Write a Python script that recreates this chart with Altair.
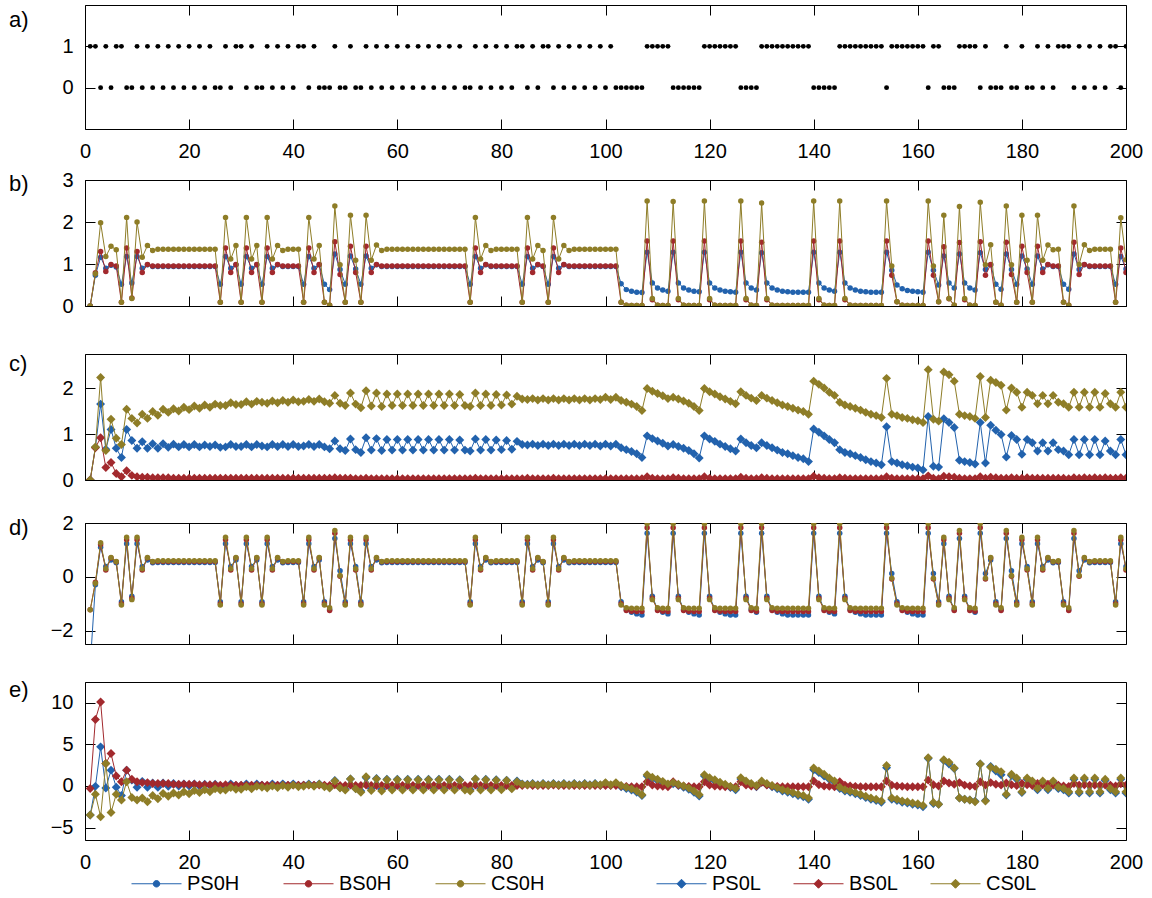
import altair as alt
import pandas as pd

FONT = "Liberation Sans"
INK = "black"
BLUE = "#2262ad"
RED = "#a2292d"
OLIVE = "#8e7d27"
PLOT_W = 1041

t = list(range(1, 201))
x_ticks = list(range(0, 201, 20))

# a) binary input sequence
seq = [
    1, 1, 0, 1, 0, 1, 1, 0, 0, 1,
    0, 1, 0, 1, 0, 1, 0, 1, 0, 1,
    0, 1, 0, 1, 0, 0, 1, 0, 1, 1,
    0, 1, 0, 0, 1, 0, 1, 0, 1, 0,
    1, 1, 0, 1, 0, 0, 0, 1, 0, 0,
    1, 0, 0, 1, 0, 1, 0, 1, 0, 1,
    0, 1, 0, 1, 0, 1, 0, 1, 0, 1,
    0, 1, 0, 0, 1, 0, 1, 0, 1, 0,
    1, 0, 1, 1, 0, 1, 0, 1, 1, 0,
    1, 0, 1, 0, 1, 0, 1, 0, 1, 0,
    1, 0, 0, 0, 0, 0, 0, 1, 1, 1,
    1, 1, 0, 0, 0, 0, 0, 0, 1, 1,
    1, 1, 1, 1, 1, 0, 0, 0, 0, 1,
    1, 1, 1, 1, 1, 1, 1, 1, 1, 0,
    0, 0, 0, 0, 1, 1, 1, 1, 1, 1,
    1, 1, 1, 0, 1, 1, 1, 1, 1, 1,
    1, 0, 1, 1, 0, 0, 0, 1, 1, 1,
    1, 0, 1, 0, 0, 0, 1, 0, 0, 1,
    0, 0, 1, 0, 1, 0, 1, 1, 1, 0,
    1, 0, 1, 0, 1, 0, 1, 1, 0, 1,
]

# b) H models
ps0h_b = [
    0, .73, 1.16, .90, .97, .93, .52, 1.18, .55, 1.18,
    .90, .98, .94, .94, .94, .94, .94, .94, .94, .94,
    .94, .94, .94, .94, .94, .52, 1.18, .90, .98, .52,
    1.18, .90, .98, .52, 1.18, .90, .98, .94, .94, .94,
    .94, .52, 1.18, .90, .98, .52, .39, 1.24, .87, .52,
    1.19, .88, .52, 1.19, .90, .98, .94, .94, .94, .94,
    .94, .94, .94, .94, .94, .94, .94, .94, .94, .94,
    .94, .94, .94, .52, 1.18, .90, .98, .94, .94, .94,
    .94, .94, .94, .52, 1.18, .90, .98, .94, .52, 1.18,
    .90, .98, .94, .94, .94, .94, .94, .94, .94, .94,
    .94, .94, .53, .39, .35, .33, .32, 1.28, .55, .43,
    .38, .35, 1.28, .55, .43, .38, .35, .34, 1.28, .55,
    .43, .38, .35, .34, .33, 1.28, .55, .43, .38, 1.27,
    .55, .43, .38, .35, .34, .33, .33, .33, .33, 1.28,
    .55, .43, .38, .35, 1.28, .55, .43, .38, .35, .34,
    .33, .33, .33, 1.28, .85, .50, .41, .37, .35, .34,
    .33, 1.28, .85, .50, 1.19, .55, .43, 1.24, .55, .43,
    .38, 1.27, .87, .98, .52, .40, 1.24, .87, .52, 1.19,
    .88, .52, 1.19, .88, .98, .94, .94, .52, .40, 1.24,
    .87, .98, .94, .94, .94, .94, .94, .52, 1.18, .88,
]
bs0h_b = [
    0, .79, 1.30, .82, .99, .95, .09, 1.38, .19, 1.30,
    .80, .99, .95, .95, .95, .95, .95, .95, .95, .95,
    .95, .95, .95, .95, .95, .09, 1.38, .80, .99, .09,
    1.38, .80, .99, .09, 1.38, .80, .99, .95, .95, .95,
    .95, .09, 1.38, .80, .99, .09, .02, 1.53, .75, .09,
    1.42, .80, .09, 1.42, .80, .99, .95, .95, .95, .95,
    .95, .95, .95, .95, .95, .95, .95, .95, .95, .95,
    .95, .95, .95, .09, 1.38, .80, .99, .95, .95, .95,
    .95, .95, .95, .09, 1.38, .80, .99, .95, .09, 1.38,
    .80, .99, .95, .95, .95, .95, .95, .95, .95, .95,
    .95, .95, .09, .02, .01, .01, .01, 1.55, .15, .02,
    .01, .01, 1.55, .15, .02, .01, .01, .01, 1.55, .15,
    .02, .01, .01, .01, .01, 1.55, .15, .02, .01, 1.52,
    .15, .02, .01, .01, .01, .01, .01, .01, .01, 1.55,
    .15, .02, .01, .01, 1.55, .15, .02, .01, .01, .01,
    .01, .01, .01, 1.55, .73, .10, .02, .01, .01, .01,
    .01, 1.55, .73, .10, 1.41, .17, .02, 1.51, .15, .02,
    .01, 1.53, .73, .99, .09, .02, 1.52, .75, .09, 1.42,
    .80, .09, 1.42, .80, .99, .95, .95, .09, .02, 1.52,
    .75, .99, .95, .95, .95, .95, .95, .09, 1.38, .80,
]
cs0h_b = [
    0, .77, 1.98, 1.18, 1.42, 1.34, .09, 2.11, .18, 2.00,
    1.16, 1.44, 1.32, 1.35, 1.35, 1.35, 1.35, 1.35, 1.35, 1.35,
    1.35, 1.35, 1.35, 1.35, 1.35, .09, 2.11, 1.12, 1.44, .09,
    2.11, 1.12, 1.44, .09, 2.11, 1.12, 1.44, 1.32, 1.35, 1.35,
    1.35, .09, 2.11, 1.12, 1.44, .09, .02, 2.38, .98, .09,
    2.16, 1.09, .09, 2.16, 1.09, 1.45, 1.32, 1.35, 1.35, 1.35,
    1.35, 1.35, 1.35, 1.35, 1.35, 1.35, 1.35, 1.35, 1.35, 1.35,
    1.35, 1.35, 1.35, .09, 2.11, 1.12, 1.44, 1.32, 1.35, 1.35,
    1.35, 1.35, 1.35, .09, 2.11, 1.12, 1.44, 1.32, .09, 2.11,
    1.12, 1.44, 1.32, 1.35, 1.35, 1.35, 1.35, 1.35, 1.35, 1.35,
    1.35, 1.35, .09, .02, .01, .01, .01, 2.50, .18, .02,
    .01, .01, 2.49, .18, .02, .01, .01, .01, 2.50, .18,
    .02, .01, .01, .01, .01, 2.50, .18, .02, .01, 2.45,
    .18, .02, .01, .01, .01, .01, .01, .01, .01, 2.50,
    .18, .02, .01, .01, 2.50, .18, .02, .01, .01, .01,
    .01, .01, .01, 2.50, .95, .10, .02, .01, .01, .01,
    .01, 2.50, .95, .10, 2.16, .18, .02, 2.37, .18, .02,
    .01, 2.47, .98, 1.46, .09, .02, 2.38, .98, .09, 2.16,
    1.09, .09, 2.16, 1.09, 1.45, 1.34, 1.35, .09, .02, 2.38,
    .99, 1.46, 1.32, 1.35, 1.35, 1.35, 1.35, .09, 2.10, 1.10,
]

# c) L models
ps0l_c = [
    0, .71, 1.65, .67, 1.10, .69, .49, 1.10, .86, .69,
    .83, .69, .79, .69, .79, .71, .78, .72, .77, .72,
    .77, .72, .76, .73, .76, .71, .72, .77, .73, .73,
    .77, .72, .77, .74, .72, .77, .73, .77, .73, .77,
    .73, .74, .77, .73, .77, .72, .68, .85, .68, .64,
    .89, .66, .60, .92, .65, .90, .64, .88, .65, .88,
    .65, .88, .65, .88, .65, .88, .65, .88, .65, .88,
    .65, .87, .65, .63, .89, .65, .88, .65, .87, .66,
    .86, .67, .84, .77, .76, .78, .75, .78, .75, .78,
    .75, .78, .75, .78, .75, .78, .75, .78, .74, .78,
    .74, .78, .70, .66, .62, .57, .49, .96, .90, .85,
    .80, .74, .77, .73, .69, .64, .57, .48, .96, .89,
    .84, .78, .73, .68, .63, .89, .81, .75, .70, .81,
    .75, .70, .65, .60, .57, .53, .49, .46, .40, 1.11,
    1.04, .96, .88, .81, .66, .60, .57, .53, .49, .44,
    .40, .37, .33, 1.16, .40, .37, .33, .31, .28, .26,
    .22, 1.38, .30, .28, 1.33, 1.25, 1.14, .43, .40, .38,
    .35, 1.25, .37, 1.19, 1.08, .99, .50, .97, .88, .56,
    .88, .81, .63, .81, .63, .81, .66, .63, .55, .88,
    .55, .88, .55, .88, .55, .85, .63, .55, .88, .55,
]
bs0l_c = [
    0, .70, .92, .27, .38, .14, .07, .20, .10, .07,
    .06, .06, .05, .05, .05, .05, .04, .04, .04, .04,
    .04, .04, .04, .04, .04, .04, .04, .04, .04, .04,
    .04, .04, .04, .04, .04, .04, .04, .04, .04, .04,
    .04, .04, .04, .04, .04, .04, .04, .05, .04, .04,
    .04, .03, .03, .04, .03, .03, .03, .03, .03, .03,
    .03, .03, .03, .03, .03, .03, .03, .03, .03, .03,
    .03, .03, .03, .03, .04, .03, .03, .03, .03, .03,
    .03, .03, .03, .03, .04, .03, .03, .03, .03, .04,
    .03, .03, .03, .03, .03, .03, .03, .03, .03, .03,
    .03, .03, .03, .03, .03, .03, .03, .07, .04, .03,
    .03, .03, .05, .04, .03, .03, .03, .03, .07, .04,
    .03, .03, .03, .03, .03, .06, .04, .03, .03, .05,
    .04, .03, .03, .03, .03, .03, .03, .03, .03, .08,
    .05, .04, .03, .03, .05, .04, .03, .03, .03, .03,
    .03, .03, .03, .07, .04, .03, .03, .03, .03, .03,
    .03, .09, .04, .03, .08, .07, .06, .04, .03, .03,
    .03, .07, .04, .06, .05, .04, .04, .05, .04, .04,
    .05, .04, .04, .04, .04, .04, .04, .04, .03, .05,
    .04, .05, .04, .05, .04, .05, .04, .04, .05, .04,
]
cs0l_c = [
    0, .72, 2.23, .64, 1.32, .91, .77, 1.54, 1.34, 1.24,
    1.43, 1.34, 1.49, 1.41, 1.54, 1.47, 1.55, 1.50, 1.58, 1.53,
    1.61, 1.56, 1.63, 1.58, 1.65, 1.62, 1.62, 1.68, 1.64, 1.64,
    1.70, 1.65, 1.71, 1.69, 1.67, 1.72, 1.68, 1.73, 1.69, 1.74,
    1.70, 1.71, 1.75, 1.71, 1.76, 1.70, 1.67, 1.84, 1.67, 1.62,
    1.89, 1.65, 1.57, 1.94, 1.61, 1.89, 1.60, 1.87, 1.62, 1.87,
    1.62, 1.87, 1.62, 1.87, 1.62, 1.87, 1.62, 1.87, 1.62, 1.87,
    1.62, 1.86, 1.62, 1.60, 1.89, 1.62, 1.87, 1.62, 1.86, 1.63,
    1.85, 1.65, 1.82, 1.76, 1.75, 1.77, 1.74, 1.77, 1.74, 1.77,
    1.74, 1.77, 1.74, 1.77, 1.74, 1.77, 1.74, 1.77, 1.75, 1.80,
    1.75, 1.80, 1.73, 1.69, 1.65, 1.60, 1.51, 1.99, 1.93, 1.88,
    1.83, 1.77, 1.80, 1.76, 1.72, 1.67, 1.60, 1.51, 1.99, 1.92,
    1.87, 1.81, 1.76, 1.71, 1.66, 1.92, 1.84, 1.78, 1.73, 1.84,
    1.78, 1.73, 1.68, 1.63, 1.60, 1.56, 1.52, 1.49, 1.43, 2.15,
    2.08, 2.00, 1.91, 1.84, 1.69, 1.63, 1.60, 1.56, 1.52, 1.47,
    1.43, 1.40, 1.36, 2.21, 1.43, 1.40, 1.36, 1.34, 1.31, 1.29,
    1.25, 2.40, 1.32, 1.28, 2.35, 2.29, 2.15, 1.43, 1.40, 1.38,
    1.34, 2.25, 1.36, 2.17, 2.12, 2.06, 1.52, 2.00, 1.91, 1.58,
    1.91, 1.84, 1.66, 1.84, 1.66, 1.84, 1.69, 1.66, 1.58, 1.91,
    1.58, 1.91, 1.58, 1.91, 1.58, 1.88, 1.66, 1.58, 1.91, 1.58,
]

# d) H models, standardised
ps0h_d = [
    -3.3, -.30, 1.10, .38, .62, .52, -.93, 1.23, -.72, 1.23,
    .38, .62, .52, .53, .53, .53, .53, .53, .53, .53,
    .53, .53, .53, .53, .53, -.93, 1.23, .38, .62, -.93,
    1.23, .38, .62, -.93, 1.23, .38, .62, .52, .53, .53,
    .53, -.93, 1.23, .38, .62, -.93, -1.22, 1.42, .22, -.93,
    1.23, .38, -.93, 1.23, .38, .62, .52, .53, .53, .53,
    .53, .53, .53, .53, .53, .53, .53, .53, .53, .53,
    .53, .53, .53, -.93, 1.23, .38, .62, .52, .53, .53,
    .53, .53, .53, -.93, 1.23, .38, .62, .52, -.93, 1.23,
    .38, .62, .52, .53, .53, .53, .53, .53, .53, .53,
    .53, .53, -.93, -1.22, -1.32, -1.38, -1.42, 1.62, -.72, -1.22,
    -1.32, -1.38, 1.62, -.72, -1.22, -1.32, -1.38, -1.42, 1.62, -.72,
    -1.22, -1.32, -1.38, -1.42, -1.42, 1.62, -.72, -1.22, -1.32, 1.62,
    -.72, -1.22, -1.32, -1.38, -1.42, -1.42, -1.42, -1.42, -1.42, 1.62,
    -.72, -1.22, -1.32, -1.38, 1.62, -.72, -1.22, -1.32, -1.38, -1.42,
    -1.42, -1.42, -1.42, 1.62, .12, -.93, -1.22, -1.32, -1.38, -1.42,
    -1.42, 1.62, .12, -.93, 1.23, -.72, -1.22, 1.42, -.72, -1.22,
    -1.32, 1.62, .12, .62, -.93, -1.22, 1.42, .22, -.93, 1.23,
    .38, -.93, 1.23, .38, .62, .52, .53, -.93, -1.22, 1.42,
    .22, .62, .52, .53, .53, .53, .53, -.93, 1.23, .38,
]
bs0h_d = [
    -1.23, -.20, 1.20, .25, .70, .56, -1.00, 1.38, -.80, 1.38,
    .25, .70, .56, .57, .57, .57, .57, .57, .57, .57,
    .57, .57, .57, .57, .57, -1.00, 1.38, .25, .70, -1.00,
    1.38, .25, .70, -1.00, 1.38, .25, .70, .56, .57, .57,
    .57, -1.00, 1.38, .25, .70, -1.00, -1.25, 1.62, .02, -1.00,
    1.38, .25, -1.00, 1.38, .25, .70, .56, .57, .57, .57,
    .57, .57, .57, .57, .57, .57, .57, .57, .57, .57,
    .57, .57, .57, -1.00, 1.38, .25, .70, .56, .57, .57,
    .57, .57, .57, -1.00, 1.38, .25, .70, .56, -1.00, 1.38,
    .25, .70, .56, .57, .57, .57, .57, .57, .57, .57,
    .57, .57, -1.00, -1.25, -1.28, -1.29, -1.29, 1.82, -.80, -1.25,
    -1.28, -1.29, 1.82, -.80, -1.25, -1.28, -1.29, -1.29, 1.82, -.80,
    -1.25, -1.28, -1.29, -1.29, -1.29, 1.82, -.80, -1.25, -1.28, 1.82,
    -.80, -1.25, -1.28, -1.29, -1.29, -1.29, -1.29, -1.29, -1.29, 1.82,
    -.80, -1.25, -1.28, -1.29, 1.82, -.80, -1.25, -1.28, -1.29, -1.29,
    -1.29, -1.29, -1.29, 1.82, -.08, -1.00, -1.25, -1.28, -1.29, -1.29,
    -1.29, 1.82, -.08, -1.00, 1.38, -.80, -1.25, 1.62, -.80, -1.25,
    -1.28, 1.82, -.08, .70, -1.00, -1.25, 1.62, .02, -1.00, 1.38,
    .25, -1.00, 1.38, .25, .70, .56, .57, -1.00, -1.25, 1.62,
    .02, .70, .56, .57, .57, .57, .57, -1.00, 1.38, .25,
]
cs0h_d = [
    -1.23, -.24, 1.27, .30, .72, .57, -1.05, 1.47, -.85, 1.47,
    .30, .72, .57, .60, .60, .60, .60, .60, .60, .60,
    .60, .60, .60, .60, .60, -1.05, 1.47, .30, .72, -1.05,
    1.47, .30, .72, -1.05, 1.47, .30, .72, .57, .60, .60,
    .60, -1.05, 1.47, .30, .72, -1.05, -1.15, 1.72, .05, -1.05,
    1.47, .30, -1.05, 1.47, .30, .72, .57, .60, .60, .60,
    .60, .60, .60, .60, .60, .60, .60, .60, .60, .60,
    .60, .60, .60, -1.05, 1.47, .30, .72, .57, .60, .60,
    .60, .60, .60, -1.05, 1.47, .30, .72, .57, -1.05, 1.47,
    .30, .72, .57, .60, .60, .60, .60, .60, .60, .60,
    .60, .60, -1.05, -1.15, -1.17, -1.17, -1.17, 1.97, -.85, -1.15,
    -1.17, -1.17, 1.97, -.85, -1.15, -1.17, -1.17, -1.17, 1.97, -.85,
    -1.15, -1.17, -1.17, -1.17, -1.17, 1.97, -.85, -1.15, -1.17, 1.97,
    -.85, -1.15, -1.17, -1.17, -1.17, -1.17, -1.17, -1.17, -1.17, 1.97,
    -.85, -1.15, -1.17, -1.17, 1.97, -.85, -1.15, -1.17, -1.17, -1.17,
    -1.17, -1.17, -1.17, 1.97, -.05, -1.05, -1.15, -1.17, -1.17, -1.17,
    -1.17, 1.97, -.05, -1.05, 1.47, -.85, -1.15, 1.72, -.85, -1.15,
    -1.17, 1.97, -.05, .72, -1.05, -1.15, 1.72, .05, -1.05, 1.47,
    .30, -1.05, 1.47, .30, .72, .57, .60, -1.05, -1.15, 1.72,
    .05, .72, .57, .60, .60, .60, .60, -1.05, 1.47, .30,
]

# e) L models, standardised
ps0l_e = [
    -3.5, -.05, 4.7, -.25, 1.9, -.15, -1.15, 1.9, .7, -.15,
    .55, -.15, .35, -.15, .35, -.05, .3, 0, .25, 0,
    .25, 0, .2, .05, .2, -.05, 0, .25, .05, .05,
    .25, 0, .25, .1, 0, .25, .05, .25, .05, .25,
    .05, .1, .25, .05, .25, 0, -.2, .65, -.2, -.4,
    .85, -.3, -.6, 1.0, -.35, .9, -.4, .8, -.35, .8,
    -.35, .8, -.35, .8, -.35, .8, -.35, .8, -.35, .8,
    -.35, .75, -.35, -.45, .85, -.35, .8, -.35, .75, -.3,
    .7, -.25, .6, .25, .2, .3, .15, .3, .15, .3,
    .15, .3, .15, .3, .15, .3, .15, .3, .1, .3,
    .1, .3, -.1, -.3, -.5, -.75, -1.15, 1.2, .9, .65,
    .4, .1, .25, .05, -.15, -.4, -.75, -1.2, 1.2, .85,
    .6, .3, .05, -.2, -.45, .85, .45, .15, -.1, .45,
    .15, -.1, -.35, -.6, -.75, -.95, -1.15, -1.3, -1.6, 1.95,
    1.6, 1.2, .8, .45, -.3, -.6, -.75, -.95, -1.15, -1.4,
    -1.6, -1.75, -1.95, 2.2, -1.6, -1.75, -1.95, -2.05, -2.2, -2.3,
    -2.5, 3.3, -2.1, -2.2, 3.05, 2.65, 2.1, -1.45, -1.6, -1.7,
    -1.85, 2.65, -1.75, 2.35, 1.8, 1.35, -1.1, 1.25, .8, -.8,
    .8, .45, -.45, .45, -.45, .45, -.3, -.45, -.85, .8,
    -.85, .8, -.85, .8, -.85, .65, -.45, -.85, .8, -.85,
]
bs0l_e = [
    -.3, 8.0, 10.1, 2.7, 3.9, 1.2, .5, 1.9, .8, .5,
    .4, .4, .3, .3, .3, .3, .2, .2, .2, .2,
    .2, .15, .15, .15, .15, .1, .15, .1, .1, .1,
    .1, .1, .1, .1, .1, .1, .1, .1, .1, .1,
    .1, .1, .1, .1, .1, .1, .05, .15, .05, .05,
    .1, .05, .05, .1, .05, .05, .05, .05, .05, .05,
    .05, .05, .05, .05, .05, .05, .05, .05, .05, .05,
    .05, .05, .05, .05, .1, .05, .05, .05, .05, .05,
    .05, .05, .05, .05, .1, .05, .05, .05, .05, .1,
    .05, .05, .05, .05, .05, .05, .05, .05, .05, .05,
    .05, .05, 0, -.05, -.1, -.1, -.1, .5, .1, 0,
    -.05, -.1, .5, .1, 0, -.05, -.1, -.1, .5, .1,
    0, -.05, -.1, -.1, -.1, .5, .1, 0, -.05, .45,
    .1, 0, -.05, -.1, -.1, -.1, -.1, -.1, -.1, .6,
    .15, 0, -.05, -.1, .5, .1, 0, -.05, -.1, -.1,
    -.1, -.1, -.1, .6, .1, 0, -.05, -.1, -.1, -.1,
    -.1, .7, .15, 0, .6, .35, .2, .4, .1, 0,
    -.05, .5, .1, .4, .2, .1, .35, .15, .05, .3,
    .15, .05, .3, .15, .2, .1, .1, 0, -.05, .3,
    .1, .15, .1, .1, .1, .1, .1, 0, .25, .1,
]
cs0l_e = [
    -3.5, -1.0, -3.7, 2.7, -3.2, -1.0, -1.7, .5, -1.4, -1.7,
    -1.45, -1.9, -1.15, -1.55, -.9, -1.25, -.85, -1.1, -.7, -.95,
    -.55, -.8, -.45, -.7, -.35, -.5, -.5, -.2, -.4, -.4,
    -.1, -.35, -.05, -.15, -.25, 0, -.2, .05, -.15, .1,
    -.1, -.05, .15, -.05, .2, -.1, -.25, .6, -.25, -.5,
    .85, -.35, -.75, 1.1, -.55, .85, -.6, .75, -.5, .75,
    -.5, .75, -.5, .75, -.5, .75, -.5, .75, -.5, .75,
    -.5, .7, -.5, -.6, .85, -.5, .75, -.5, .7, -.45,
    .65, -.35, .5, .2, .15, .25, .1, .25, .1, .25,
    .1, .25, .1, .25, .1, .25, .1, .25, .15, .4,
    .15, .4, .05, -.15, -.35, -.6, -1.05, 1.35, 1.05, .8,
    .55, .25, .4, .2, 0, -.25, -.6, -1.05, 1.35, 1.0,
    .75, .45, .2, -.05, -.3, 1.0, .6, .3, .05, .6,
    .3, .05, -.2, -.45, -.6, -.8, -1.0, -1.15, -1.45, 2.15,
    1.8, 1.4, .95, .6, -.15, -.45, -.6, -.8, -1.0, -1.25,
    -1.45, -1.6, -1.8, 2.45, -1.45, -1.6, -1.8, -1.9, -2.05, -2.15,
    -2.35, 3.4, -2.0, -2.2, 3.15, 2.85, 2.15, -1.45, -1.6, -1.7,
    -1.9, 2.65, -1.8, 2.25, 2.0, 1.7, -1.0, 1.4, .95, -.7,
    .95, .6, -.3, .6, -.3, .6, -.15, -.3, -.7, .95,
    -.7, .95, -.7, .95, -.7, .8, -.3, -.7, .95, -.7,
]

h_names = ["PS0H", "BS0H", "CS0H"]
l_names = ["PS0L", "BS0L", "CS0L"]
series_colors = [BLUE, RED, OLIVE]

# legend keys: a short line with the marker in the middle
CIRCLE_KEY = "M-1,0L1,0M0.13,0A0.13,0.13,0,1,1,-0.13,0A0.13,0.13,0,1,1,0.13,0Z"
DIAMOND_KEY = "M-1,0L1,0M-0.18,0L0,-0.18L0.18,0L0,0.18Z"

XS = alt.Scale(domain=[0, 200], nice=False, zero=False)


def yscale(dom):
    return alt.Scale(domain=dom, nice=False, zero=False)


def axis_layers(ydom, yvals, xlabels):
    frame = pd.DataFrame({"t": [0, 200], "v": ydom})
    common = dict(domain=False, grid=False, tickSize=10, tickColor=INK,
                  tickWidth=1, offset=-10, title=None)
    near = alt.Chart(frame).mark_point(opacity=0, size=1, strokeWidth=0).encode(
        x=alt.X("t:Q", scale=XS, axis=alt.Axis(
            orient="bottom", values=x_ticks, labels=xlabels, labelPadding=12,
            labelFlush=False, labelOverlap=False, **common)),
        y=alt.Y("v:Q", scale=yscale(ydom), axis=alt.Axis(
            orient="left", values=yvals, labelPadding=12, labelOverlap=False,
            labelFlush=False, **common)),
    )
    far = alt.Chart(frame).mark_point(opacity=0, size=1, strokeWidth=0).encode(
        x=alt.X("t:Q", scale=XS, axis=alt.Axis(
            orient="top", values=x_ticks, labels=False, **common)),
        y=alt.Y("v:Q", scale=yscale(ydom), axis=alt.Axis(
            orient="right", values=yvals, labels=False, **common)),
    )
    return [near, far]


def series(values, color, shape, size, ydom, line=True):
    df = pd.DataFrame({"t": t[:len(values)], "v": values})
    enc = dict(x=alt.X("t:Q", scale=XS, axis=None),
               y=alt.Y("v:Q", scale=yscale(ydom), axis=None))
    out = []
    if line:
        out.append(alt.Chart(df).mark_line(color=color, strokeWidth=1, clip=True).encode(**enc))
    out.append(alt.Chart(df).mark_point(shape=shape, filled=True, size=size, color=color,
                                        opacity=1, strokeWidth=0, clip=True).encode(**enc))
    return out


def tag(text, dy):
    return alt.Chart(pd.DataFrame({"s": [text]})).mark_text(
        align="left", baseline="middle", font=FONT, fontSize=22, color=INK
    ).encode(text="s:N", x=alt.value(-76), y=alt.value(dy))


def key(field, names, path, ydom, lx, ly, pad):
    df = pd.DataFrame({field: names, "t": [-100] * 3, "v": [0] * 3})
    lg = alt.Legend(orient="none", legendX=lx, legendY=ly, direction="horizontal",
                    title=None, symbolSize=2500, symbolStrokeWidth=1, labelFont=FONT,
                    labelFontSize=20, labelColor=INK, labelOffset=5, columnPadding=pad,
                    padding=0)
    cs = alt.Scale(domain=names, range=series_colors)
    return alt.Chart(df).mark_point(filled=True, opacity=1, clip=True).encode(
        x=alt.X("t:Q", scale=XS, axis=None),
        y=alt.Y("v:Q", scale=yscale(ydom), axis=None),
        fill=alt.Fill(f"{field}:N", scale=cs, legend=lg),
        stroke=alt.Stroke(f"{field}:N", scale=cs, legend=lg),
        shape=alt.Shape(f"{field}:N", scale=alt.Scale(domain=names, range=[path] * 3), legend=lg),
    )


def panel(layers, ydom, yvals, h, xlabels, label, dy, extra=()):
    return alt.layer(
        *axis_layers(ydom, yvals, xlabels), *layers, tag(label, dy), *extra
    ).resolve_axis(x="independent", y="independent").properties(width=PLOT_W, height=h)


def gap(h):
    return alt.Chart(pd.DataFrame({"t": [0]})).mark_point(opacity=0, size=1).encode(
        x=alt.X("t:Q", axis=None), y=alt.Y("t:Q", axis=None)
    ).properties(width=PLOT_W, height=h, view=alt.ViewBackground(strokeOpacity=0))


dom_a, dom_b, dom_c, dom_d, dom_e = [-1, 2], [0, 3], [0, 2.74], [-2.5, 2], [-6.5, 12.5]

pa = panel(series(seq, INK, "circle", 24, dom_a, line=False), dom_a, [0, 1], 124, True, "a)", 15)

lb = []
for vals, col in zip([ps0h_b, bs0h_b, cs0h_b], series_colors):
    lb += series(vals, col, "circle", 30, dom_b)
pb = panel(lb, dom_b, [0, 1, 2, 3], 126, False, "b)", 4)

lc = []
for vals, col in zip([ps0l_c, bs0l_c, cs0l_c], series_colors):
    lc += series(vals, col, "diamond", 80, dom_c)
pc = panel(lc, dom_c, [0, 1, 2], 126, False, "c)", 10)

ld = []
for vals, col in zip([ps0h_d, bs0h_d, cs0h_d], series_colors):
    ld += series(vals, col, "circle", 30, dom_d)
pdd = panel(ld, dom_d, [-2, 0, 2], 121, False, "d)", 5)

le = []
for vals, col in zip([ps0l_e, bs0l_e, cs0l_e], series_colors):
    le += series(vals, col, "diamond", 80, dom_e)
keys = [key("hname", h_names, CIRCLE_KEY, dom_e, 46, 176, 41),
        key("lname", l_names, DIAMOND_KEY, dom_e, 571, 176, 30)]
pe = panel(le, dom_e, [-5, 0, 5, 10], 158, True, "e)", 8, extra=keys).resolve_scale(
    fill="independent", stroke="independent", shape="independent")

chart = alt.vconcat(
    pa, gap(51), pb, gap(48), pc, gap(43), pdd, gap(38), pe, spacing=0, bounds="flush"
).resolve_scale(
    fill="independent", stroke="independent", shape="independent"
).properties(
    padding={"left": 8, "top": 4, "right": 5, "bottom": 5}
).configure_view(stroke=INK, strokeWidth=1).configure_axis(
    labelFont=FONT, labelFontSize=20, labelColor=INK
)

chart.save("out.html", embed_options={"renderer": "svg", "actions": False})
